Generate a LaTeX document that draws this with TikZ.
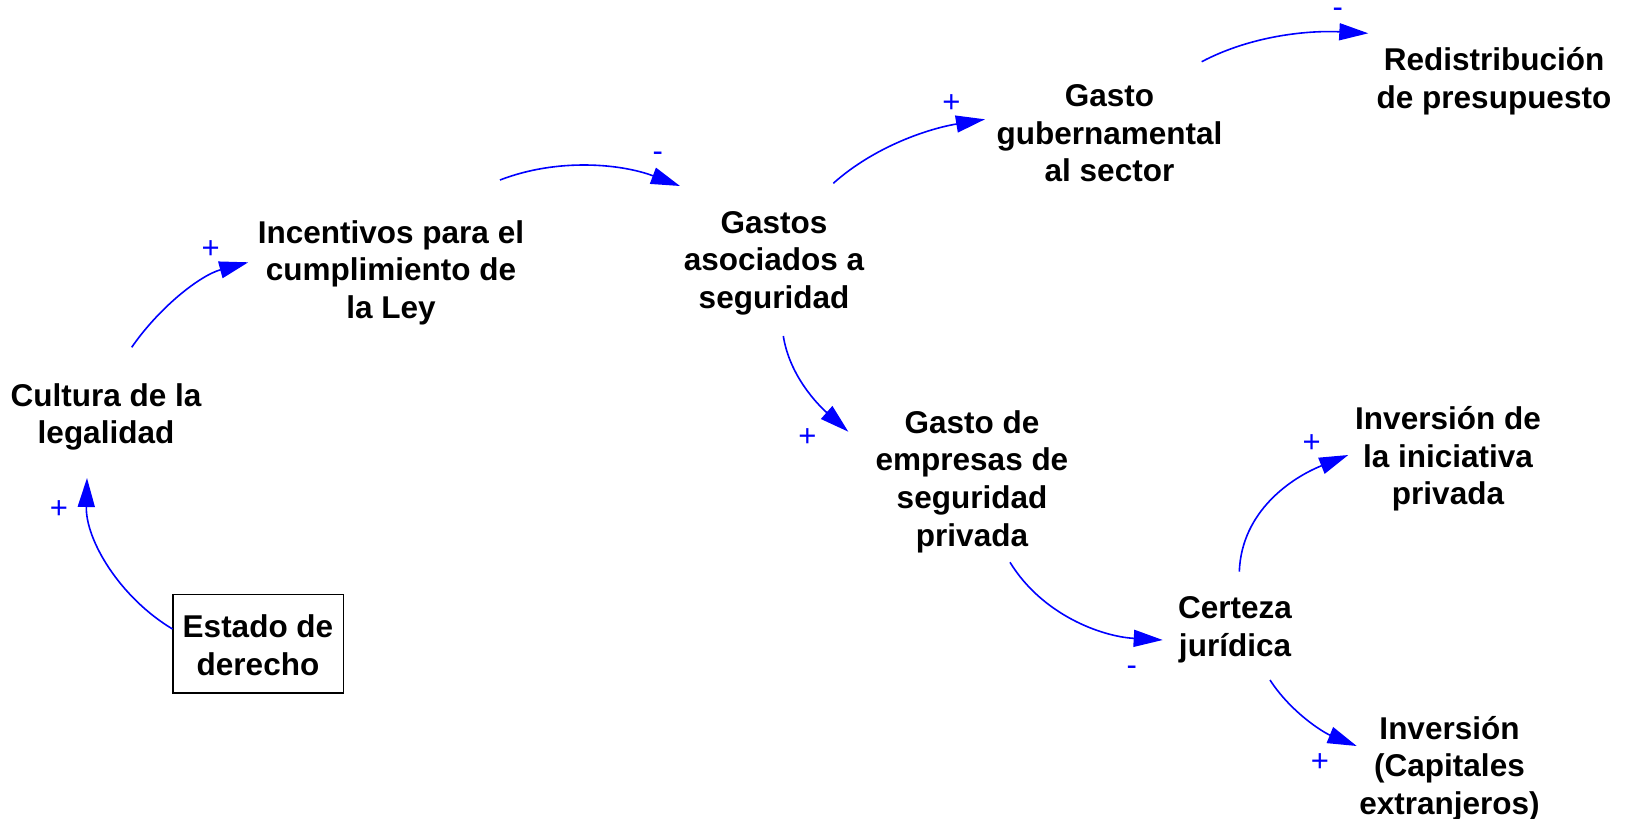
\documentclass[tikz,border=0pt]{standalone}
\usepackage{fontspec}
\setmainfont{Liberation Sans}
\usetikzlibrary{arrows.meta}
\newcommand{\myst}{\rule[-8pt]{0pt}{33pt}}
\newcommand{\mytop}{\rule{0pt}{43pt}}
\newcommand{\mybot}{\rule[-18pt]{0pt}{18pt}}
\begin{document}
\begin{tikzpicture}[x=1pt,y=-1pt,
  var/.style={align=center, inner sep=0pt, font=\fontsize{31.5}{37.7}\selectfont\bfseries},
  exo/.style={var, draw=black, line width=1.5pt, minimum width=170.5pt},
  link/.style={draw=blue, line width=1.6pt, -{Triangle[length=29pt,width=17pt]}},
  pol/.style={anchor=base, inner sep=0pt, text=blue, font=\fontsize{31}{31}\selectfont}]
\useasboundingbox (0,0) rectangle (1625,819);

% variables
\node[var] (inc) at (391,272.2) {\myst Incentivos para el\\\myst cumplimiento de\\\myst la Ley};
\node[var] (cult) at (106,416.4) {\myst Cultura de la\\\myst legalidad};
\node[exo] (est) at (258,643.85) {\mytop Estado de\\\mybot derecho};
\node[var] (gas) at (774,262.2) {\myst Gastos\\\myst asociados a\\\myst seguridad};
\node[var] (gub) at (1109.5,135.7) {\myst Gasto\\\myst gubernamental\\\myst al sector};
\node[var] (red) at (1494,80.85) {\myst Redistribución\\\myst de presupuesto};
\node[var] (emp) at (972,481.05) {\myst Gasto de\\\myst empresas de\\\myst seguridad\\\myst privada};
\node[var] (cer) at (1235,628.85) {\myst Certeza\\\myst jurídica};
\node[var] (ini) at (1448,458.7) {\myst Inversión de\\\myst la iniciativa\\\myst privada};
\node[var] (cap) at (1449.5,768.2) {\myst Inversión\\\myst (Capitales\\\myst extranjeros)};

% links
\draw[link] ([shift={(-85.5,-14.85)}]est.center) .. controls +(-53,-31.8) and +(-1.5,61.8) .. ([shift={(-19,61.6)}]cult.center);
\draw[link] ([shift={(25.7,-69.1)}]cult.center) .. controls +(28.2,-40.7) and +(-47.8,12.9) .. ([shift={(-142.7,-9.9)}]inc.center);
\draw[link] ([shift={(109,-92.2)}]inc.center) .. controls +(58.3,-22.5) and +(-58.5,-22.1) .. ([shift={(-94,-76.2)}]gas.center);
\draw[link] ([shift={(59.3,-78.9)}]gas.center) .. controls +(42.1,-37.5) and +(-55.6,9.2) .. ([shift={(-124.5,-16.4)}]gub.center);
\draw[link] ([shift={(92.2,-74)}]gub.center) .. controls +(51.1,-26.9) and +(-57.6,-3.0) .. ([shift={(-125.7,-47.55)}]red.center);
\draw[link] ([shift={(9.3,73.8)}]gas.center) .. controls +(6.3,40) and +(-30.3,-26.9) .. ([shift={(-123.7,-49.35)}]emp.center);
\draw[link] ([shift={(38,81.25)}]emp.center) .. controls +(32.2,52.5) and +(-61.5,-3.5) .. ([shift={(-72.3,11.15)}]cer.center);
\draw[link] ([shift={(4.3,-57.15)}]cer.center) .. controls +(2.2,-60.8) and +(-56.4,22.6) .. ([shift={(-99.7,-3.7)}]ini.center);
\draw[link] ([shift={(35,51.15)}]cer.center) .. controls +(20.3,31.4) and +(-34.6,-14.1) .. ([shift={(-92.8,-22.2)}]cap.center);

% polarities
\node[pol] (p1) at (58.9,518.2) {+};
\node[pol] (p2) at (210.7,258.4) {+};
\node[pol] (p3) at (657.7,161.8) {-};
\node[pol] (p4) at (951.5,112.6) {+};
\node[pol] (p5) at (1337.7,17.8) {-};
\node[pol] (p6) at (807.3,446.1) {+};
\node[pol] (p7) at (1131.7,675.2) {-};
\node[pol] (p8) at (1311.7,452.8) {+};
\node[pol] (p9) at (1320,771.1) {+};
\end{tikzpicture}
\end{document}
